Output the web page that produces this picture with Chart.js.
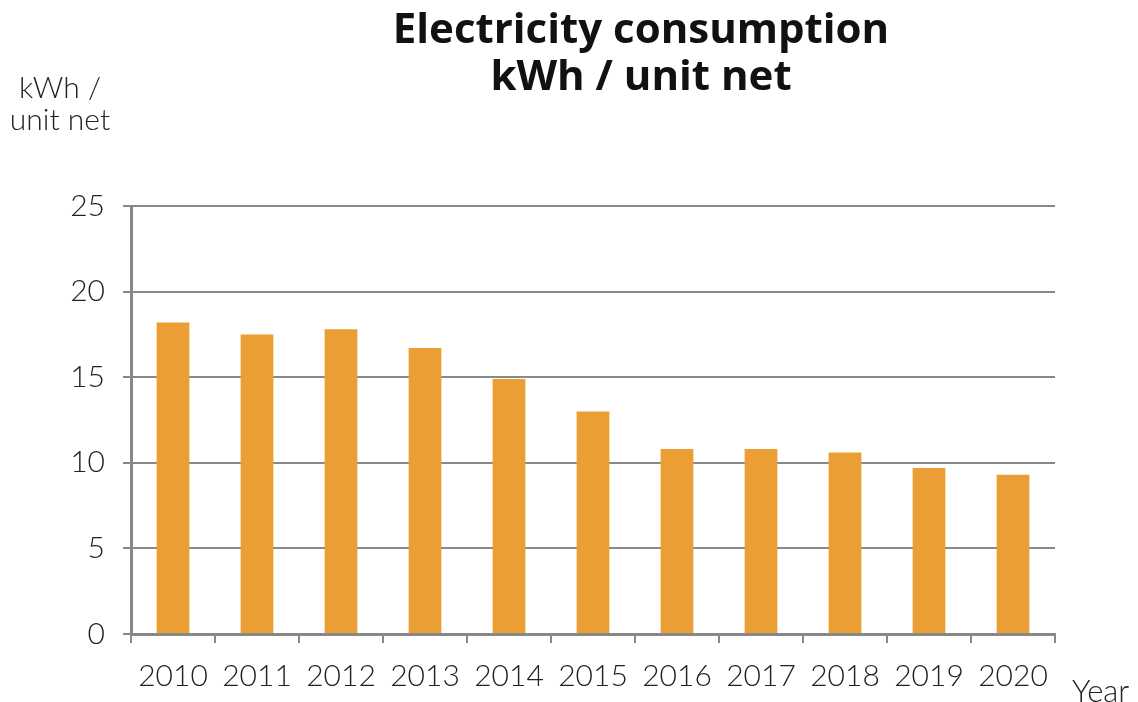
<!DOCTYPE html>
<html>
<head>
<meta charset="utf-8">
<script src="https://cdn.jsdelivr.net/npm/chart.js"></script>
<style>
	body { margin: 0; background: #fff; }
	#wrap { position: relative; width: 1138px; height: 702px; font-family: Lato, sans-serif; color: #222; }
	#title { position: absolute; left: 291px; width: 700px; top: 3px; text-align: center; font-family: 'Open Sans', sans-serif; font-weight: bold; font-size: 42px; line-height: 47px; color: #111; }
	#yunit { position: absolute; left: 0; width: 120px; top: 70px; text-align: center; font-size: 30px; font-weight: 300; line-height: 32px; }
	#xunit { position: absolute; left: 1072px; top: 671px; font-size: 31px; font-weight: 300; }
</style>
</head>
<body>
<div id="wrap">
	<canvas id="elecChart" width="1138" height="702"></canvas>
	<div id="title">Electricity consumption<br>kWh / unit net</div>
	<div id="yunit">kWh /<br>unit net</div>
	<div id="xunit">Year</div>
</div>
<script>
	let years = ['2010', '2011', '2012', '2013', '2014', '2015', '2016', '2017', '2018', '2019', '2020'];
	let consumption = [18.2, 17.5, 17.8, 16.7, 14.9, 13.0, 10.8, 10.8, 10.6, 9.7, 9.3];
	let yTicks = [0, 5, 10, 15, 20, 25];

	let tickFont = { family: 'Lato', size: 30, weight: '300' };

	let chart = new Chart("elecChart", {
		type: "bar",
		data: {
			labels: years,
			datasets: [{
				data: consumption,
				backgroundColor: "#ea9e33",
				categoryPercentage: 1,
				barPercentage: 0.39
			}]
		},
		options: {
			responsive: false,
			animation: false,
			layout: { padding: { top: 206, right: 83, left: 0, bottom: 0 } },
			plugins: { legend: { display: false }, tooltip: { enabled: false } },
			scales: {
				x: {
					afterFit: function (s) { s.height = 68; },
					grid: {
						offset: true,
						drawOnChartArea: true,
						color: function (ctx) { return ctx.index === years.length ? '#8c8496' : 'rgba(0,0,0,0)'; },
						tickColor: '#888',
						tickLength: 9,
						lineWidth: 2
					},
					border: { color: '#888', width: 3 },
					ticks: { color: '#222', font: tickFont, padding: 15, maxRotation: 0, autoSkip: false }
				},
				y: {
					min: 0,
					max: 25,
					afterFit: function (s) { s.width = 131; },
					afterBuildTicks: function (s) { s.ticks = yTicks.map(function (v) { return { value: v }; }); },
					grid: { color: '#888', lineWidth: 2, tickLength: 8 },
					border: { color: '#888', width: 3 },
					ticks: { color: '#222', font: tickFont, padding: 18 }
				}
			}
		}
	});
</script>
</body>
</html>
